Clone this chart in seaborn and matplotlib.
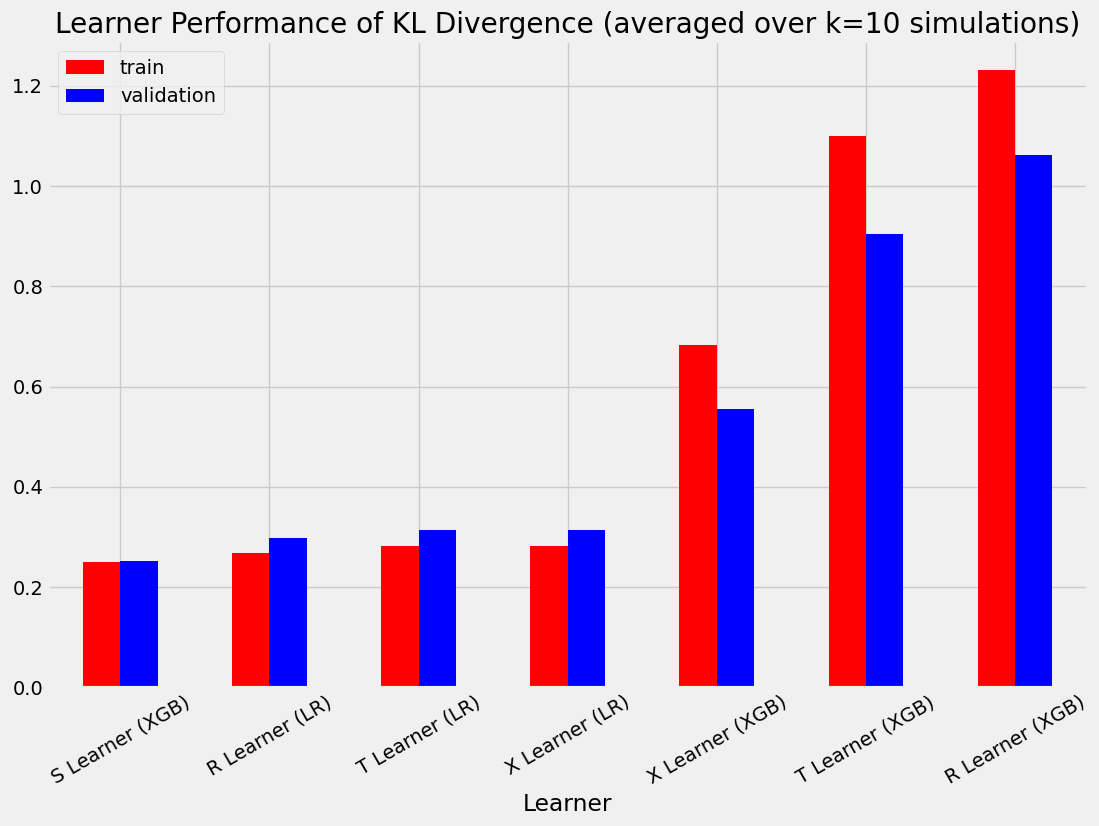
import matplotlib
matplotlib.use("Agg")
import matplotlib.pyplot as plt
import seaborn as sns
import pandas as pd

learners = ["S Learner (XGB)", "R Learner (LR)", "T Learner (LR)", "X Learner (LR)",
            "X Learner (XGB)", "T Learner (XGB)", "R Learner (XGB)"]
train = [0.250, 0.268, 0.282, 0.282, 0.683, 1.100, 1.232]
validation = [0.252, 0.298, 0.314, 0.314, 0.555, 0.904, 1.062]
series_colors = {"train": "red", "validation": "blue"}

df = pd.DataFrame({
    "Learner": learners * 2,
    "value": train + validation,
    "set": ["train"] * len(learners) + ["validation"] * len(learners),
})

plt.style.use("fivethirtyeight")
plt.rcParams["font.size"] = 14

fig = plt.figure(figsize=(10.99, 8.26), dpi=100)
ax = fig.add_axes([48 / 1099, 1 - 687.5 / 826, (1088 - 48) / 1099, (687.5 - 41) / 826])

sns.barplot(data=df, x="Learner", y="value", hue="set", order=learners,
            palette=series_colors, width=0.5, gap=0, saturation=1,
            linewidth=0, dodge=True, ax=ax)

ax.set_xlim(-0.485, 6.49)
ax.set_ylim(0, 1.2896)
ax.grid(True, axis="both")
ax.set_axisbelow(True)
ax.set_ylabel("")
ax.set_xlabel("Learner")
ax.set_title("Learner Performance of KL Divergence (averaged over k=10 simulations)")
plt.setp(ax.get_xticklabels(), rotation=30, ha="center")
ax.legend(loc="upper left", title=None)

fig.savefig("out.png", dpi=100, facecolor=fig.get_facecolor())
